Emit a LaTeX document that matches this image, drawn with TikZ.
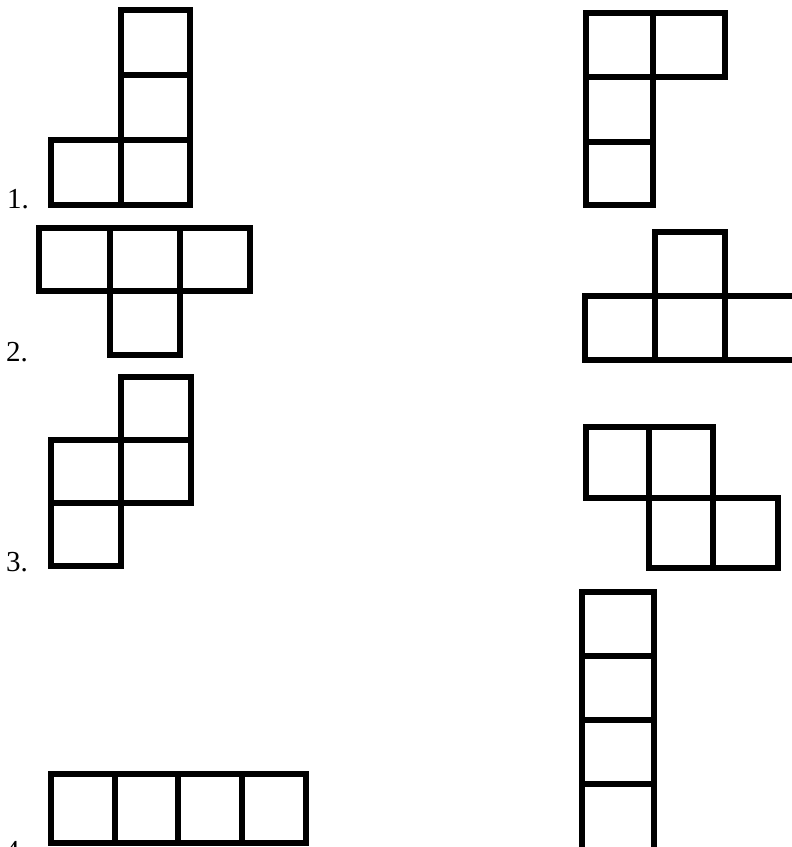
\documentclass[tikz,border=0pt]{standalone}
\usepackage{fontspec}
\setmainfont{Liberation Serif}
\begin{document}
\begin{tikzpicture}[x=1pt,y=-1pt,
  cell/.style={draw=black,line width=6pt,line join=miter},
  lbl/.style={inner sep=0pt,anchor=base west,font=\fontsize{29}{29}\selectfont}]
\useasboundingbox (0,0) rectangle (792,847);
% ---- 1 left
\draw[cell] (120.5,10) rectangle (190,75);
\draw[cell] (120.5,75) rectangle (190,140);
\draw[cell] (51,140) rectangle (120.5,205);
\draw[cell] (120.5,140) rectangle (190,205);
\node[lbl] (l1) at (7,208) {1.};
% ---- 1 right
\draw[cell] (586,13) rectangle (653,77);
\draw[cell] (653,13) rectangle (725,77);
\draw[cell] (586,77) rectangle (653,142);
\draw[cell] (586,142) rectangle (653,205);
% ---- 2 left
\draw[cell] (39,228) rectangle (109.5,290.5);
\draw[cell] (109.5,228) rectangle (179.5,290.5);
\draw[cell] (179.5,228) rectangle (249.5,290.5);
\draw[cell] (109.5,290.5) rectangle (179.5,355);
\node[lbl] (l2) at (6,361) {2.};
% ---- 2 right
\draw[cell] (654.5,232) rectangle (725,296);
\draw[cell] (584.5,296) rectangle (654.5,360);
\draw[cell] (654.5,296) rectangle (725,360);
\draw[cell] (725,296) rectangle (796,360);
% ---- 3 left
\draw[cell] (121,377) rectangle (191,440);
\draw[cell] (51,440) rectangle (121,503);
\draw[cell] (121,440) rectangle (191,503);
\draw[cell] (51,503) rectangle (121,566);
\node[lbl] (l3) at (6,571) {3.};
% ---- 3 right
\draw[cell] (586,427) rectangle (649,497.5);
\draw[cell] (649,427) rectangle (713,497.5);
\draw[cell] (649,497.5) rectangle (713,568);
\draw[cell] (713,497.5) rectangle (778,568);
% ---- 4 left
\draw[cell] (51,774) rectangle (115,843);
\draw[cell] (115,774) rectangle (177.5,843);
\draw[cell] (177.5,774) rectangle (242,843);
\draw[cell] (242,774) rectangle (306,843);
\node[lbl] (l4) at (5,860) {4.};
% ---- 4 right
\draw[cell] (582,592) rectangle (653.5,655.5);
\draw[cell] (582,655.5) rectangle (653.5,720);
\draw[cell] (582,720) rectangle (653.5,783.5);
\draw[cell] (582,783.5) rectangle (653.5,852);
\end{tikzpicture}
\end{document}
